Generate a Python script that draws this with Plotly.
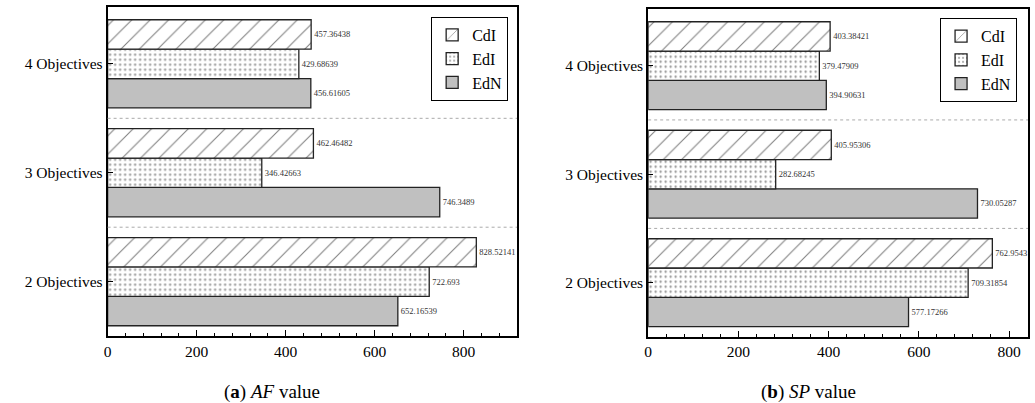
import plotly.graph_objects as go

categories = ["2 Objectives", "3 Objectives", "4 Objectives"]
series_names = ["EdN", "EdI", "CdI"]

af_edn = [652.16539, 746.3489, 456.61605]
af_edi = [722.693, 346.42663, 429.68639]
af_cdi = [828.52141, 462.46482, 457.36438]

sp_edn = [577.17266, 730.05287, 394.90631]
sp_edi = [709.31854, 282.68245, 379.47909]
sp_cdi = [762.9543, 405.95306, 403.38421]

x_ticks = [0, 200, 400, 600, 800]

SERIF = "Liberation Serif, Times New Roman, serif"

styles = {
    "EdN": dict(color="#c0c0c0", pattern=dict(shape="")),
    "EdI": dict(color="white", pattern=dict(shape=".", fgcolor="#222222", bgcolor="white",
                                            size=5, solidity=0.16, fillmode="overlay")),
    "CdI": dict(color="white", pattern=dict(shape="/", fgcolor="black", bgcolor="white",
                                            size=13, solidity=0.08, fillmode="overlay")),
}

fig = go.Figure()

def add_panel(values, xa, ya, legend):
    for name, vals in zip(series_names, values):
        st = styles[name]
        fig.add_trace(go.Bar(
            y=categories, x=vals, orientation="h", name=name,
            xaxis=xa, yaxis=ya, legend=legend,
            marker=dict(color=st["color"], pattern=st["pattern"],
                        line=dict(color="#222222", width=1.3)),
            text=[repr(v) for v in vals],
            texttemplate="%{text}",
            textposition="outside", constraintext="none", cliponaxis=False,
            textfont=dict(family=SERIF, size=8.5, color="#333333"),
        ))

add_panel([af_edn, af_edi, af_cdi], "x", "y", "legend")
add_panel([sp_edn, sp_edi, sp_cdi], "x2", "y2", "legend2")

axis_common_x = dict(
    showline=True, linecolor="black", linewidth=1.8, mirror=True,
    ticks="inside", ticklen=6, tickwidth=1.2, tickcolor="black",
    tickvals=x_ticks, showgrid=False, zeroline=False,
    tickfont=dict(family=SERIF, size=15.5, color="black"),
    minor=dict(dtick=40, tick0=0, ticks="inside", ticklen=3, tickwidth=1, tickcolor="black"),
)
axis_common_y = dict(
    showline=True, linecolor="black", linewidth=1.8, mirror=True,
    ticks="inside", ticklen=5, tickwidth=1.2, tickcolor="black",
    showgrid=False, zeroline=False, range=[-0.5, 2.52],
    type="category", categoryorder="array", categoryarray=categories,
    tickfont=dict(family=SERIF, size=15.5, color="black"),
)

fig.update_layout(
    width=1035, height=403,
    margin=dict(l=0, r=0, t=0, b=0),
    paper_bgcolor="white", plot_bgcolor="white",
    barmode="group", bargap=0.19, bargroupgap=0,
    xaxis=dict(domain=[0.1005, 0.4976], range=[0, 920], **axis_common_x),
    yaxis=dict(domain=[0.166, 0.982], anchor="x", **axis_common_y),
    xaxis2=dict(domain=[0.6248, 0.9932], range=[0, 842], anchor="y2", **axis_common_x),
    yaxis2=dict(domain=[0.164, 0.977], anchor="x2", **axis_common_y),
    legend=dict(x=0.489, y=0.958, xanchor="right", yanchor="top",
                traceorder="reversed", bordercolor="black", borderwidth=1,
                bgcolor="white", font=dict(family=SERIF, size=16, color="black"),
                tracegroupgap=0, itemwidth=30),
    legend2=dict(x=0.9826, y=0.955, xanchor="right", yanchor="top",
                 traceorder="reversed", bordercolor="black", borderwidth=1,
                 bgcolor="white", font=dict(family=SERIF, size=16, color="black"),
                 tracegroupgap=0, itemwidth=30),
    showlegend=True,
)

# dotted separators between category groups
for xr, yr in [("x", "y"), ("x2", "y2")]:
    for yb in [0.5, 1.5]:
        fig.add_shape(type="line", xref=f"{xr} domain", yref=yr,
                      x0=0, x1=1, y0=yb, y1=yb,
                      line=dict(color="#aaaaaa", width=1, dash="dot"))

fig.add_annotation(text="(<b>a</b>) <i>AF</i> value", xref="paper", yref="paper",
                   x=269 / 1035, y=1 - 392 / 403, xanchor="center", yanchor="middle",
                   showarrow=False, font=dict(family=SERIF, size=19, color="black"))
fig.add_annotation(text="(<b>b</b>) <i>SP</i> value", xref="paper", yref="paper",
                   x=(530 + 278) / 1035, y=1 - 392 / 403, xanchor="center", yanchor="middle",
                   showarrow=False, font=dict(family=SERIF, size=19, color="black"))

fig.write_html("out.html", config=dict(displayModeBar=False),
               post_script="document.documentElement.style.margin='0';document.body.style.margin='0';document.body.style.overflow='hidden';document.documentElement.style.overflow='hidden';")
